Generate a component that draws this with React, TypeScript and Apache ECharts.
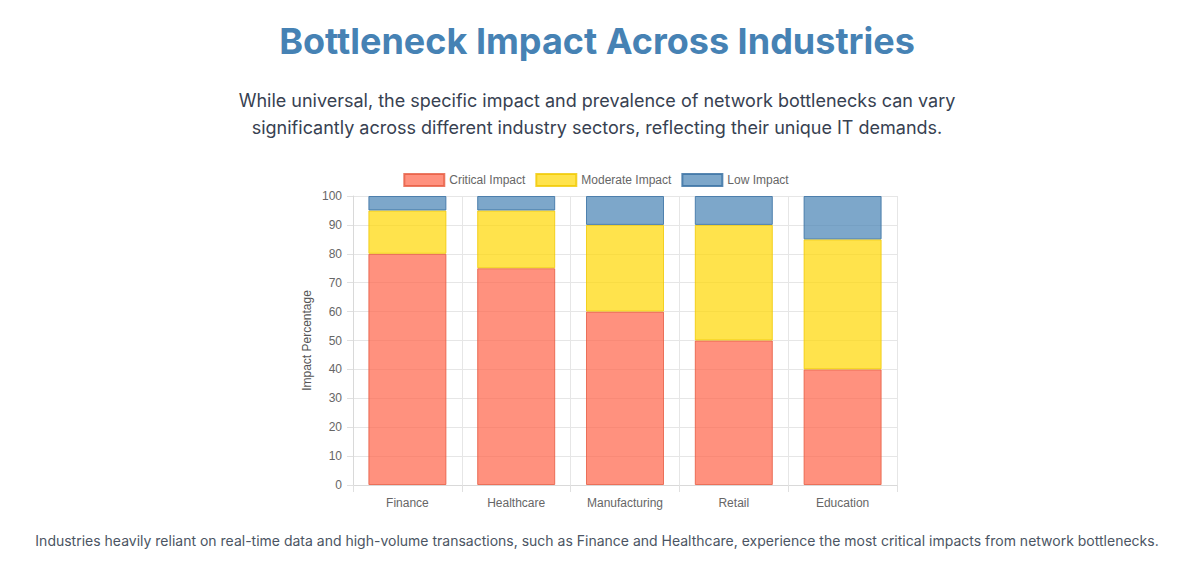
import React, { useEffect, useRef } from "react";
import * as echarts from "echarts";

const categories = ["Finance", "Healthcare", "Manufacturing", "Retail", "Education"];
const criticalImpact = [80, 75, 60, 50, 40];
const moderateImpact = [15, 20, 30, 40, 45];
const lowImpact = [5, 5, 10, 10, 15];

const titleText = "Bottleneck Impact Across Industries";
const subtitleLines = [
  "While universal, the specific impact and prevalence of network bottlenecks can vary",
  "significantly across different industry sectors, reflecting their unique IT demands.",
];
const footerText =
  "Industries heavily reliant on real-time data and high-volume transactions, such as Finance and Healthcare, experience the most critical impacts from network bottlenecks.";

const chartFont = "Arial, 'Liberation Sans', Helvetica, sans-serif";

export default function App() {
  const ref = useRef<HTMLDivElement>(null);
  useEffect(() => {
    document.body.style.margin = "0";
    const chart = echarts.init(ref.current!, null, { renderer: "svg" });
    const mk = (name: string, data: number[], fill: string, border: string) => ({
      name,
      type: "bar",
      stack: "total",
      data,
      barWidth: 78,
      itemStyle: { color: fill, borderColor: border, borderWidth: 1 },
      emphasis: { disabled: true },
    });
    chart.setOption({
      animation: false,
      textStyle: { fontFamily: chartFont },
      graphic: [
        {
          type: "text",
          x: 597,
          y: 41,
          style: {
            text: titleText,
            fontFamily: "Inter",
            fontWeight: 700,
            fontSize: 36,
            fill: "#4682B4",
            textAlign: "center",
            textVerticalAlign: "middle",
          },
        },
        ...subtitleLines.map((t, i) => ({
          type: "text",
          x: 597,
          y: 100 + i * 27,
          style: {
            text: t,
            fontFamily: "Inter",
            fontSize: 18,
            fill: "#374151",
            textAlign: "center",
            textVerticalAlign: "middle",
          },
        })),
        {
          type: "text",
          x: 597,
          y: 540,
          style: {
            text: footerText,
            fontFamily: "Inter",
            fontSize: 14,
            fill: "#4b5563",
            textAlign: "center",
            textVerticalAlign: "middle",
          },
        },
      ],
      legend: {
        top: 168,
        left: "center",
        itemWidth: 40,
        itemHeight: 12,
        itemGap: 10,
        icon: "rect",
        textStyle: { fontSize: 12, color: "#666", fontFamily: chartFont },
        selectedMode: false,
      },
      grid: { left: 353, right: 295, top: 196, bottom: 80, containLabel: false },
      xAxis: {
        type: "category",
        data: categories,
        boundaryGap: true,
        axisLine: { show: true, lineStyle: { color: "#d9d9d9" } },
        axisTick: { show: true, length: 7, lineStyle: { color: "#e0e0e0" } },
        splitLine: { show: true, lineStyle: { color: "#e6e6e6" } },
        axisLabel: { fontSize: 12, color: "#666", margin: 12, fontFamily: chartFont },
      },
      yAxis: {
        type: "value",
        min: 0,
        max: 100,
        interval: 10,
        name: "Impact Percentage",
        nameLocation: "middle",
        nameGap: 40,
        nameRotate: 90,
        nameTextStyle: { fontSize: 12, color: "#555", fontFamily: chartFont },
        axisLine: { show: true, lineStyle: { color: "#d9d9d9" } },
        axisTick: { show: true, length: 6, lineStyle: { color: "#e0e0e0" } },
        splitLine: { show: true, lineStyle: { color: "#e6e6e6" } },
        axisLabel: { fontSize: 12, color: "#666", margin: 11, fontFamily: chartFont },
      },
      series: [
        mk("Critical Impact", criticalImpact, "rgba(255,99,71,0.7)", "rgba(230,90,64,0.8)"),
        mk("Moderate Impact", moderateImpact, "rgba(255,215,0,0.7)", "rgba(240,200,0,0.8)"),
        mk("Low Impact", lowImpact, "rgba(70,130,180,0.7)", "rgba(60,115,165,0.85)"),
      ],
    });
    return () => chart.dispose();
  }, []);
  return (
    <div
      ref={ref}
      style={{ position: "absolute", left: 0, top: 0, width: 1192, height: 565, background: "#fff" }}
    />
  );
}
